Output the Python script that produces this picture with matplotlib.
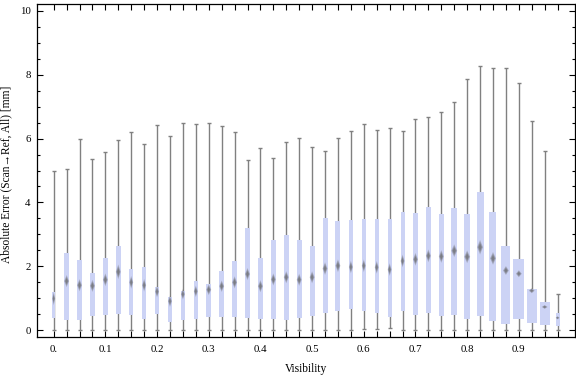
import numpy as np
import matplotlib
matplotlib.use('Agg')
import matplotlib.pyplot as plt
from matplotlib.ticker import MultipleLocator

# visibility bins (box centres)
visibility = [0.0, 0.025, 0.05, 0.075, 0.1, 0.125, 0.15, 0.175, 0.2, 0.225,
              0.25, 0.275, 0.3, 0.325, 0.35, 0.375, 0.4, 0.425, 0.45, 0.475,
              0.5, 0.525, 0.55, 0.575, 0.6, 0.625, 0.65, 0.675, 0.7, 0.725,
              0.75, 0.775, 0.8, 0.825, 0.85, 0.875, 0.9, 0.925, 0.95, 0.975]

# whisker ends
w_max = [4.98, 5.05, 5.98, 5.35, 5.57, 5.95, 6.20, 5.82, 6.42, 6.07,
         6.48, 6.45, 6.48, 6.39, 6.20, 5.32, 5.70, 5.38, 5.88, 6.01,
         5.73, 5.60, 6.01, 6.23, 6.45, 6.26, 6.33, 6.23, 6.60, 6.67,
         6.82, 7.14, 7.86, 8.27, 8.20, 8.20, 7.73, 6.54, 5.60, 1.15]
w_min = [0.0, 0.0, 0.0, 0.0, 0.0, 0.0, 0.0, 0.0, 0.0, 0.0,
         0.0, 0.0, 0.0, 0.0, 0.0, 0.0, 0.0, 0.0, 0.0, 0.0,
         0.0, 0.0, 0.02, 0.02, 0.04, 0.04, 0.06, 0.0, 0.0, 0.0,
         0.0, 0.0, 0.0, 0.0, 0.0, 0.0, 0.0, 0.0, 0.0, 0.0]

# quartiles
q3 = [1.19, 2.41, 2.19, 1.79, 2.26, 2.63, 1.91, 1.97, 1.35, 1.04,
      1.22, 1.54, 1.44, 1.85, 2.16, 3.20, 2.25, 2.82, 2.98, 2.82,
      2.65, 3.51, 3.42, 3.45, 3.48, 3.48, 3.48, 3.70, 3.67, 3.86,
      3.64, 3.82, 3.64, 4.33, 3.70, 2.63, 2.23, 1.30, 0.88, 0.53]
q1 = [0.39, 0.31, 0.32, 0.44, 0.47, 0.50, 0.47, 0.34, 0.50, 0.26,
      0.31, 0.34, 0.42, 0.42, 0.42, 0.39, 0.36, 0.36, 0.32, 0.37,
      0.45, 0.54, 0.61, 0.67, 0.61, 0.54, 0.42, 0.61, 0.48, 0.54,
      0.45, 0.48, 0.36, 0.45, 0.29, 0.20, 0.36, 0.23, 0.17, 0.13]
median = [0.99, 1.54, 1.41, 1.39, 1.58, 1.83, 1.50, 1.41, 1.21, 0.91,
          1.13, 1.22, 1.27, 1.38, 1.50, 1.76, 1.38, 1.59, 1.66, 1.58,
          1.66, 1.93, 2.02, 1.98, 2.02, 1.97, 1.90, 2.17, 2.22, 2.33,
          2.31, 2.49, 2.30, 2.60, 2.25, 1.87, 1.77, 1.24, 0.73, 0.39]
# half height of the median diamond
notch = [0.21, 0.19, 0.19, 0.19, 0.20, 0.23, 0.20, 0.20, 0.18, 0.18,
         0.17, 0.18, 0.17, 0.18, 0.19, 0.19, 0.19, 0.19, 0.19, 0.19,
         0.19, 0.20, 0.20, 0.20, 0.20, 0.20, 0.20, 0.20, 0.20, 0.20,
         0.20, 0.20, 0.20, 0.23, 0.20, 0.14, 0.11, 0.08, 0.06, 0.05]
# box widths (relative)
box_w = [3, 5, 5, 5, 5, 5, 4, 4, 4, 4,
         4, 4, 5, 5, 5, 5, 5, 5, 5, 5,
         5, 5, 5, 4, 4, 4, 4, 4, 5, 5,
         5, 6, 6, 7, 7, 9, 11, 10, 10, 4]

serif = ['Liberation Serif', 'DejaVu Serif']
plt.rcParams['font.family'] = serif

px = 0.025 / 12.93  # x data units per pixel

fig = plt.figure(figsize=(5.76, 3.77), dpi=100)
ax = fig.add_axes([37 / 576, 1 - 337 / 377, 537.5 / 576, 333 / 377])

vis = np.array(visibility)
widths = np.array(box_w) * px

# whiskers
ax.vlines(vis, w_min, w_max, color='#808080', lw=1.0, zorder=1)
cap = 2 * px
ax.hlines(w_max, vis - cap, vis + cap, color='#808080', lw=1.0, zorder=1)
ax.hlines(w_min, vis - cap, vis + cap, color='#808080', lw=1.0, zorder=1)

# boxes
ax.bar(vis, np.array(q3) - np.array(q1), bottom=q1, width=widths,
       color='#ccd3f5', edgecolor='none', zorder=2)

# median diamonds, layered to look blurred
for x, m, h, w in zip(vis, median, notch, widths):
    hw = max(min(w / 2, 3 * px), 1.5 * px)
    for s, a in [(1.0, 0.3), (0.75, 0.35), (0.5, 0.45)]:
        ax.fill([x - hw * s, x, x + hw * s, x], [m, m + h * s, m, m - h * s],
                color='#606060', alpha=a, lw=0, zorder=3)

ax.set_xlim(-0.0323, 1.0077)
ax.set_ylim(-0.21, 10.21)

ax.set_xticks(vis)
ax.set_xticklabels(['0.' if i == 0 else ('%.1f' % v if i % 4 == 0 else '')
                    for i, v in enumerate(vis)])
ax.set_yticks([0, 2, 4, 6, 8, 10])
ax.yaxis.set_minor_locator(MultipleLocator(0.5))

ax.tick_params(axis='both', which='both', direction='in', top=True, right=True,
               labelsize=7.8, width=0.8, color='black')
ax.tick_params(axis='x', which='major', length=4.5, pad=6)
ax.tick_params(axis='y', which='major', length=4.5, pad=4.5)
ax.tick_params(axis='y', which='minor', length=2.5)
for sp in ax.spines.values():
    sp.set_linewidth(0.9)

ax.set_xlabel('Visibility', fontsize=8.3, labelpad=6)
ax.set_ylabel('Absolute Error (Scan\u2192Ref, All) [mm]', fontsize=8.3)
ax.yaxis.set_label_coords(-0.046, 0.49)

plt.savefig('out.png', dpi=100)
